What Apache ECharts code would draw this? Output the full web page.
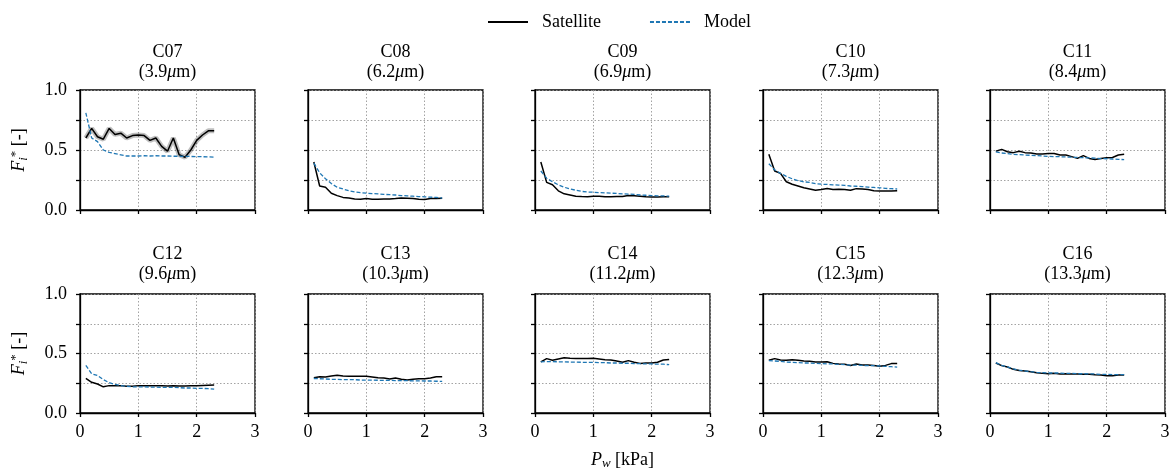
<!DOCTYPE html>
<html>
<head>
<meta charset="utf-8">
<script src="https://cdn.jsdelivr.net/npm/echarts@6/dist/echarts.min.js"></script>
<style>html,body{margin:0;padding:0;background:#fff}#c{width:1176px;height:472px}</style>
</head>
<body>
<div id="c"></div>
<script>
// ---- data ----
const pw = [0.1,0.2,0.3,0.4,0.5,0.6,0.7,0.8,0.9,1.0,1.1,1.2,1.3,1.4,1.5,1.6,1.7,1.8,1.9,2.0,2.1,2.2,2.3];
const channels = ['C07','C08','C09','C10','C11','C12','C13','C14','C15','C16'];
const wavelengths = ['3.9','6.2','6.9','7.3','8.4','9.6','10.3','11.2','12.3','13.3'];
const yTicks = [0, 0.5, 1.0];
const xTicks = [0, 1, 2, 3];

const satC07 = [0.60,0.68,0.61,0.59,0.68,0.63,0.64,0.60,0.62,0.625,0.62,0.58,0.60,0.53,0.49,0.60,0.46,0.44,0.50,0.58,0.625,0.66,0.66];
const modC07 = [0.81,0.60,0.57,0.50,0.48,0.47,0.46,0.45,0.45,0.45,0.452,0.45,0.452,0.45,0.45,0.448,0.448,0.447,0.446,0.445,0.444,0.443,0.44];
const satC08 = [0.40,0.20,0.19,0.14,0.12,0.105,0.10,0.092,0.09,0.095,0.09,0.09,0.092,0.092,0.095,0.10,0.098,0.095,0.09,0.088,0.095,0.095,0.097];
const modC08 = [0.39,0.31,0.26,0.22,0.19,0.175,0.16,0.15,0.145,0.14,0.137,0.135,0.13,0.128,0.125,0.12,0.118,0.115,0.112,0.11,0.107,0.105,0.10];
const satC09 = [0.40,0.23,0.21,0.16,0.135,0.125,0.115,0.112,0.11,0.115,0.115,0.11,0.11,0.112,0.112,0.12,0.118,0.115,0.11,0.108,0.108,0.11,0.11];
const modC09 = [0.325,0.265,0.235,0.21,0.19,0.175,0.165,0.155,0.15,0.148,0.145,0.143,0.14,0.138,0.135,0.133,0.13,0.125,0.123,0.12,0.118,0.117,0.115];
const satC10 = [0.465,0.325,0.305,0.235,0.215,0.20,0.185,0.175,0.165,0.17,0.18,0.17,0.172,0.17,0.165,0.178,0.175,0.17,0.16,0.158,0.158,0.158,0.16];
const modC10 = [0.385,0.335,0.305,0.28,0.26,0.245,0.235,0.23,0.22,0.215,0.213,0.21,0.208,0.205,0.20,0.198,0.195,0.19,0.188,0.185,0.18,0.178,0.175];
const satC11 = [0.49,0.505,0.485,0.478,0.49,0.478,0.475,0.467,0.467,0.47,0.47,0.458,0.458,0.445,0.43,0.453,0.43,0.42,0.43,0.436,0.438,0.458,0.464];
const modC11 = [0.485,0.475,0.47,0.464,0.461,0.458,0.456,0.453,0.45,0.447,0.445,0.444,0.442,0.44,0.438,0.436,0.434,0.432,0.428,0.427,0.425,0.422,0.42];
const satC12 = [0.29,0.258,0.244,0.22,0.23,0.23,0.23,0.224,0.224,0.23,0.23,0.23,0.228,0.228,0.226,0.228,0.226,0.226,0.228,0.23,0.232,0.234,0.235];
const modC12 = [0.40,0.33,0.315,0.28,0.255,0.24,0.23,0.225,0.22,0.22,0.22,0.218,0.218,0.215,0.215,0.215,0.213,0.21,0.21,0.207,0.207,0.204,0.20];
const satC13 = [0.297,0.305,0.303,0.31,0.317,0.31,0.308,0.308,0.308,0.308,0.303,0.297,0.294,0.286,0.294,0.283,0.277,0.283,0.288,0.288,0.294,0.305,0.305];
const modC13 = [0.29,0.288,0.286,0.283,0.283,0.28,0.28,0.28,0.277,0.277,0.277,0.275,0.275,0.275,0.272,0.272,0.272,0.27,0.27,0.269,0.269,0.267,0.266];
const satC14 = [0.43,0.457,0.443,0.454,0.465,0.46,0.457,0.457,0.457,0.46,0.454,0.448,0.445,0.437,0.426,0.44,0.426,0.417,0.42,0.42,0.426,0.445,0.45];
const modC14 = [0.43,0.432,0.432,0.43,0.43,0.428,0.428,0.426,0.426,0.426,0.423,0.423,0.42,0.42,0.418,0.418,0.415,0.415,0.412,0.412,0.41,0.41,0.406];
const satC15 = [0.443,0.457,0.445,0.443,0.448,0.443,0.437,0.434,0.428,0.428,0.431,0.417,0.412,0.409,0.40,0.412,0.403,0.403,0.40,0.392,0.40,0.415,0.417];
const modC15 = [0.44,0.437,0.434,0.428,0.426,0.423,0.42,0.42,0.417,0.415,0.412,0.412,0.409,0.406,0.403,0.403,0.40,0.398,0.398,0.395,0.392,0.389,0.386];
const satC16 = [0.42,0.398,0.387,0.367,0.358,0.353,0.347,0.339,0.333,0.33,0.333,0.328,0.33,0.328,0.328,0.325,0.325,0.322,0.32,0.314,0.314,0.32,0.32];
const modC16 = [0.423,0.40,0.387,0.37,0.361,0.353,0.347,0.342,0.339,0.336,0.336,0.336,0.333,0.333,0.33,0.33,0.328,0.328,0.325,0.325,0.322,0.322,0.322];

const satAll = [satC07,satC08,satC09,satC10,satC11,satC12,satC13,satC14,satC15,satC16];
const modAll = [modC07,modC08,modC09,modC10,modC11,modC12,modC13,modC14,modC15,modC16];

// ---- layout ----
const FONT = '"Liberation Serif", "DejaVu Serif", serif';
const FS = 18;
const colLeft = [80, 308, 535, 763, 990];
const panelW = 175;
const rowTop = [90, 294];
const panelH = [120, 119];
const BLUE = '#1f77b4';

const grids = [], xAxes = [], yAxes = [], series = [], graphics = [];
const pair = (xs, ys) => xs.map((x, i) => [x, ys[i]]);

for (let k = 0; k < 10; k++) {
  const r = Math.floor(k / 5), c = k % 5;
  grids.push({left: colLeft[c], top: rowTop[r], width: panelW, height: panelH[r],
    show: true, borderColor: '#000', borderWidth: 1.3, backgroundColor: 'transparent'});
  xAxes.push({
    type: 'value', gridIndex: k, min: 0, max: 3, interval: 1,
    axisLine: {show: true, lineStyle: {color: '#000', width: 1.3}},
    axisTick: {show: true, length: 4, lineStyle: {color: '#000', width: 1.3}},
    axisLabel: {show: r === 1, color: '#000', fontFamily: FONT, fontSize: FS, margin: 10,
      formatter: v => xTicks.includes(v) ? String(v) : ''},
    splitLine: {show: true, lineStyle: {color: '#999', type: [1.5, 2], width: 0.9}}
  });
  yAxes.push({
    type: 'value', gridIndex: k, min: 0, max: 1, interval: 0.25,
    axisLine: {show: true, lineStyle: {color: '#000', width: 1.3}},
    axisTick: {show: true, length: 4, lineStyle: {color: '#000', width: 1.3}},
    axisLabel: {show: c === 0, color: '#000', fontFamily: FONT, fontSize: FS, margin: 13,
      formatter: v => yTicks.some(t => Math.abs(t - v) < 1e-9) ? v.toFixed(1) : ''},
    splitLine: {show: true, lineStyle: {color: '#999', type: [1.5, 2], width: 0.9}},
    name: c === 0 ? '{i|F}{s|i}{p|*} [-]' : '',
    nameLocation: 'middle', nameGap: 50, nameRotate: 90,
    nameTextStyle: {color: '#000', fontFamily: FONT, fontSize: FS,
      rich: {i: {fontStyle: 'italic', fontFamily: FONT, fontSize: FS, color: '#000'},
             s: {fontStyle: 'italic', fontFamily: FONT, fontSize: 13, color: '#000', padding: [8, 0, 0, 0]},
             p: {fontFamily: FONT, fontSize: 13, color: '#000', padding: [0, 0, 8, 0]}}}
  });
  if (k === 0) {
    series.push({type: 'line', name: 'band', xAxisIndex: k, yAxisIndex: k, data: pair(pw, satAll[k]),
      showSymbol: false, symbol: 'none', silent: true, z: 1,
      lineStyle: {color: 'rgba(0,0,0,0.25)', width: 5}});
  }
  series.push({type: 'line', name: 'Satellite', xAxisIndex: k, yAxisIndex: k, data: pair(pw, satAll[k]),
    showSymbol: false, symbol: 'none', z: 3, lineStyle: {color: '#000', width: 1.5}, itemStyle: {color: '#000'}});
  series.push({type: 'line', name: 'Model', xAxisIndex: k, yAxisIndex: k, data: pair(pw, modAll[k]),
    showSymbol: false, symbol: 'none', z: 4, lineStyle: {color: BLUE, width: 1.3, type: [4, 2]}, itemStyle: {color: BLUE}});

  const cx = colLeft[c] + panelW / 2;
  const ty = r === 0 ? 52 : 254;
  graphics.push({type: 'text', x: cx, y: ty, style: {text: channels[k], fill: '#000', font: `${FS}px ${FONT}`,
    textAlign: 'center', textVerticalAlign: 'middle'}});
  graphics.push({type: 'text', x: cx, y: ty + 20, style: {
    text: '{n|(' + wavelengths[k] + '}{m|μ}{n|m)}', textAlign: 'center', textVerticalAlign: 'middle',
    rich: {n: {fill: '#000', fontFamily: FONT, fontSize: FS}, m: {fill: '#000', fontFamily: FONT, fontSize: FS, fontStyle: 'italic'}}}});
}

// shared x-axis title under the middle panel
graphics.push({type: 'text', x: colLeft[2] + panelW / 2, y: 460, style: {
  text: '{i|P}{s|w}{t| [kPa]}', textAlign: 'center', textVerticalAlign: 'middle',
  rich: {i: {fill: '#000', fontFamily: FONT, fontSize: FS, fontStyle: 'italic'},
         s: {fill: '#000', fontFamily: FONT, fontSize: 13, fontStyle: 'italic', padding: [8, 0, 0, 0]},
         t: {fill: '#000', fontFamily: FONT, fontSize: FS}}}});

const option = {
  animation: false,
  backgroundColor: '#fff',
  legend: {
    top: 8, left: 482, itemWidth: 40, itemHeight: 10, itemGap: 48,
    data: [{name: 'Satellite'}, {name: 'Model'}],
    itemStyle: {opacity: 0},
    textStyle: {color: '#000', fontFamily: FONT, fontSize: FS, padding: [0, 0, 0, 9]}
  },
  grid: grids, xAxis: xAxes, yAxis: yAxes, series: series,
  graphic: graphics
};
const chart = echarts.init(document.getElementById('c'), null, {renderer: 'canvas'});
chart.setOption(option);
</script>
</body>
</html>
